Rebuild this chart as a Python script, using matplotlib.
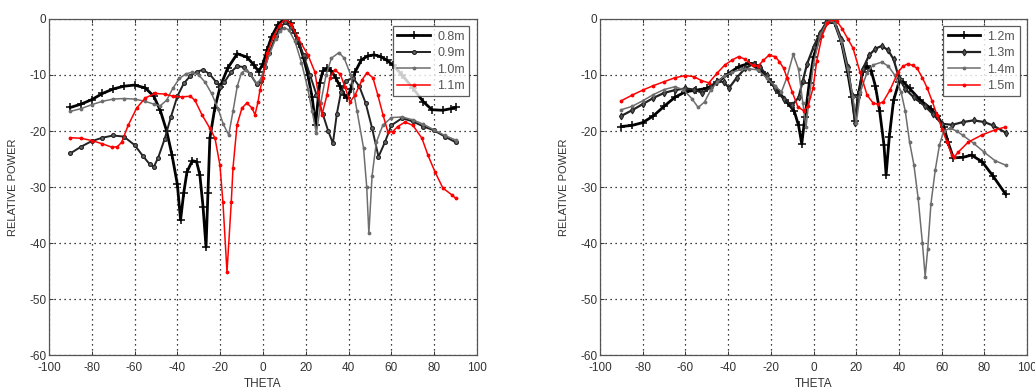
import matplotlib
matplotlib.use("Agg")
import matplotlib.pyplot as plt

# diagrammes de rayonnement mesures (puissance relative en dB vs angle theta)

# ---- graphe de gauche : 0.8m, 0.9m, 1.0m, 1.1m ----
theta_08 = [-90, -85, -80, -75, -70, -65, -60, -55, -51, -48, -45, -42.5, -40, -38.5,
            -37, -35.5, -33, -31, -29.5, -28, -26.6, -25.7, -24.8, -22.5, -20, -16.5,
            -12, -7.5, -4, -2, 0, 2, 4, 7, 10, 13, 15, 17, 19, 21, 23, 24.6, 26.5, 28,
            30, 32, 34, 36, 38, 39.5, 41, 43, 46, 49, 52, 55, 58, 61, 65, 70, 75, 79,
            84, 88, 90]
power_08 = [-15.8, -15.2, -14.4, -13.3, -12.5, -12, -11.8, -12.3, -13.8, -16.3, -20,
            -24.3, -29.5, -35.9, -31, -27.3, -25.3, -25.5, -27.8, -33.5, -40.7, -31,
            -21.3, -15.9, -12.1, -8.8, -6.2, -6.8, -8.3, -9.4, -8, -5.5, -3.2, -1, 0,
            -0.8, -2.5, -4.5, -7, -10, -14, -18.9, -11.5, -9.3, -8.8, -9.3, -10.5,
            -12, -13.5, -14.1, -12.5, -9.5, -7.3, -6.6, -6.4, -6.7, -7.4, -8.3, -10,
            -12.3, -14.8, -16.2, -16.3, -16, -15.8]

theta_09 = [-90, -85, -80, -75, -70, -65, -60, -56, -53, -51, -49, -46, -43, -40, -37,
            -34, -31, -28, -25, -22, -20, -18, -15, -12, -9, -6, -3, -1, 1, 3, 6, 8,
            10.5, 13, 16, 19, 22, 25, 28, 30.5, 32.7, 34.5, 36.5, 39, 42, 45, 48, 51,
            54, 57, 60, 65, 70, 75, 80, 85, 90]
power_09 = [-24, -22.8, -21.8, -21.2, -20.8, -21, -22.5, -24.5, -25.9, -26.4, -24.8,
            -21.5, -17.5, -13.8, -11.5, -10.2, -9.4, -9.1, -9.8, -11.2, -12.1, -11.3,
            -9.5, -8.4, -8.6, -9.8, -11.6, -11, -8.5, -6, -3, -1.5, -0.6, -1.5, -3.5,
            -6.5, -10, -13.5, -17, -20, -22.2, -17, -13, -11, -10.5, -12, -15, -19.5,
            -24.6, -22, -19, -17.7, -18.3, -19.2, -19.9, -21, -22]

theta_10 = [-90, -85, -80, -75, -70, -65, -60, -55, -51, -48, -45, -42, -39, -36, -33,
            -30, -27, -24, -21, -18.5, -16, -14, -12, -10, -8, -6, -3, -1, 1, 3, 6, 8,
            10, 12, 15, 18, 21, 23, 25, 27, 29.5, 32, 35.5, 38, 41, 44, 47, 48.5, 49.5,
            51, 53, 56, 60, 65, 70, 75, 80, 85, 90]
power_10 = [-16.5, -16, -15.3, -14.7, -14.3, -14.2, -14.3, -14.7, -15.2, -15.5, -14.5,
            -12.3, -10.6, -9.8, -9.5, -10, -11.3, -13.3, -16, -18.8, -20.7, -16.5, -12,
            -9.6, -9.1, -9.8, -11.5, -10.8, -8.6, -6.3, -3.5, -2.2, -1.6, -1.9, -4,
            -7.8, -12.5, -16.5, -20.4, -15, -10, -7, -6, -7, -10, -16.5, -23, -30,
            -38.3, -28, -22, -19, -17.6, -17.5, -18, -18.8, -19.8, -20.8, -21.6]

theta_11 = [-90, -85, -80, -75, -70.5, -68, -66, -63, -59, -55, -50.5, -46, -42, -38,
            -34, -31.8, -28.5, -24.8, -22.4, -20.1, -18.7, -16.8, -14.8, -14, -12.1,
            -9.8, -7.5, -5.1, -3.7, -2.3, -1.4, 0, 2, 5, 8, 10.5, 13, 16.4, 21, 24.3,
            25.7, 27.6, 29.9, 31.3, 33.6, 36.2, 38.3, 40.7, 43, 46.3, 48.6, 51.4, 53.7,
            56.1, 58.4, 60.7, 63, 66.4, 70.1, 74.3, 77.1, 80.4, 84.1, 88.3, 90]
power_11 = [-21.2, -21.3, -21.7, -22.3, -22.9, -22.8, -22, -19, -15.9, -14.1, -13.3,
            -13.4, -13.8, -13.9, -13.8, -14.5, -17.1, -19.5, -21.3, -26.1, -32.7,
            -45.2, -32.7, -26.6, -18.9, -15.9, -15, -15.9, -17.1, -14.8, -12.7, -10.5,
            -6.1, -3, -1, 0, -0.9, -3.4, -6.4, -9.5, -13, -17.1, -13.6, -10.5, -9.1,
            -9.9, -12.1, -14.8, -13.6, -10.9, -9.6, -10.5, -13.6, -17.1, -20.2, -20.1,
            -19.2, -18.4, -19, -21.3, -24.3, -27.3, -30.2, -31.4, -32]

# ---- graphe de droite : 1.2m, 1.3m, 1.4m, 1.5m ----
theta_12 = [-90, -85, -80, -75, -70, -65, -60, -55, -50, -45, -40, -35, -30, -27, -24,
            -20, -16, -12, -9, -7, -5.5, -4, -2, 0, 3, 6, 8, 10, 13, 16, 18, 19.5, 21,
            23, 25, 27, 29, 31, 33, 34, 35.5, 37.5, 40, 42, 45, 50, 55, 58, 61, 63,
            65.5, 70, 74, 79, 84, 90]
power_12 = [-19.2, -19, -18.5, -17.3, -15.6, -14, -13, -12.7, -12.4, -11.3, -9.8, -8.5,
            -7.9, -8.3, -9.4, -11.3, -13.2, -15, -16.5, -19, -22.3, -17.5, -11.5, -6.8,
            -3, -0.8, -0.2, -0.8, -4, -9.5, -14, -18.3, -13.5, -9.5, -8.4, -9.2, -12,
            -16.5, -22.5, -27.8, -21, -14.5, -11.3, -11.2, -12.4, -14.5, -16, -17.3,
            -19.2, -22, -24.8, -24.7, -24.3, -25.5, -28, -31.3]

theta_13 = [-90, -85, -80, -75, -70, -65, -60, -56, -52, -48, -45, -42, -39.5, -36, -32,
            -28, -25, -22, -18, -14, -10, -7, -5, -3, 0, 3, 6, 8, 10, 13, 16, 18, 19.5,
            21, 23, 26, 29, 32, 35, 37.5, 40, 43, 47, 52, 56, 60, 65, 70, 75, 80, 84,
            90]
power_13 = [-17.3, -16.3, -15.2, -14.1, -13.2, -12.7, -12.4, -12.6, -13.2, -12.2, -11,
            -11.3, -12.3, -10.5, -8.8, -8, -8.6, -10, -12.4, -14.3, -15.4, -14, -11, -8,
            -5, -2.5, -0.6, 0, -0.6, -3.5, -8.5, -13.5, -18.6, -14, -9, -6.5, -5.3,
            -4.8, -5.6, -7.2, -10.5, -12.5, -14, -15.5, -17, -18.7, -18.9, -18.4, -18.1,
            -18.4, -19, -20.3]

theta_14 = [-90, -85, -80, -75, -70, -65, -61, -57, -54, -51, -48, -45, -42, -38, -34,
            -30, -26, -22, -18, -15, -12.5, -9.5, -7, -5, -3.5, -2, 0, 3, 6, 8, 10, 13,
            16, 18.5, 20, 22, 25, 28, 32, 35, 38, 41, 43, 45, 47, 49, 51, 52.3, 53.5,
            55, 57, 59, 61, 64, 67, 70, 75, 80, 85, 90]
power_14 = [-16.2, -15.6, -14.6, -13.5, -12.6, -12.1, -12.6, -14.2, -15.8, -14.8, -12.6,
            -11.3, -10.2, -9.5, -9, -8.9, -9.1, -10.5, -12, -13, -10.5, -6.3, -9, -15,
            -19.3, -14, -8, -3, -0.8, -0.1, -0.8, -4, -9, -14, -18.6, -13, -9.6, -8.2,
            -7.7, -8.4, -10, -13, -16.5, -22, -26, -32, -40, -46, -41, -33, -27, -22.5,
            -20, -19.5, -20, -20.8, -22.2, -23.8, -25.3, -26.1]

theta_15 = [-90, -85, -80, -75, -70, -65, -60, -56, -52.5, -49, -45, -41.5, -38, -35,
            -32, -28.5, -26, -23.5, -21, -18, -16, -14, -12.4, -10, -7.3, -4.5, -2.5,
            -0.2, 1.5, 4, 6.5, 8.7, 11, 13.5, 16, 18.5, 21.8, 25.1, 27.9, 30, 32.6,
            35.8, 39.6, 42, 44.3, 46.5, 48.5, 51, 53.2, 55.5, 57.8, 60.2, 62.5, 64.9,
            66, 67.7, 72.4, 78.9, 85, 89.7]
power_15 = [-14.6, -13.6, -12.7, -11.9, -11.2, -10.5, -10.1, -10.3, -11, -11.4, -9.6,
            -8.2, -7.3, -6.7, -7.2, -8.3, -8.4, -7.4, -6.5, -6.7, -7.6, -8.8, -10.5,
            -13, -15.7, -16.4, -15.5, -12.3, -7.5, -3, -0.8, 0, -0.4, -1.8, -3.5, -5.2,
            -9.5, -13.6, -15, -15.2, -14.8, -12.7, -9.5, -8.4, -8, -8.3, -8.8, -10.5,
            -12.3, -14.6, -17.1, -19.6, -22, -24.3, -24.6, -23.8, -22, -20.7, -19.8,
            -19.3]

labels_gauche = ["0.8m", "0.9m", "1.0m", "1.1m"]
labels_droite = ["1.2m", "1.3m", "1.4m", "1.5m"]

x_ticks = list(range(-100, 101, 20))
y_ticks = list(range(-60, 1, 10))

# styles des 4 courbes (meme ordre dans les deux graphes)
style_1 = dict(color="black", lw=2.0, marker="+", ms=5.5, mew=1.1)
style_2o = dict(color="#222222", lw=1.4, marker="o", ms=2.8, mfc="#666666", mew=0.8)
style_2d = dict(color="#222222", lw=1.6, marker="d", ms=3.4, mfc="#555555", mew=0.8)
style_3 = dict(color="#6e6e6e", lw=1.1, marker=".", ms=3.5)
style_4 = dict(color="#ff0000", lw=1.1, marker=".", ms=3.5)


def habiller(ax):
    # axes facon matlab : grille pointillee, graduations vers l'interieur
    ax.set_xlim(-100, 100)
    ax.set_ylim(-60, 0)
    ax.set_xticks(x_ticks)
    ax.set_yticks(y_ticks)
    ax.grid(True, color="black", linestyle=(0, (1, 3)), linewidth=0.9)
    ax.tick_params(direction="in", top=True, right=True, length=3, width=0.7,
                   labelsize=8.5, colors="#333333")
    ax.tick_params(axis="x", pad=5)
    ax.tick_params(axis="y", pad=2)
    for s in ax.spines.values():
        s.set_color("#555555")
        s.set_linewidth(0.9)
    ax.set_xlabel("THETA", fontsize=8.5, color="#333333", labelpad=3)
    ax.set_ylabel("RELATIVE POWER", fontsize=8, color="#333333", labelpad=8)
    leg = ax.legend(loc="upper right", fontsize=9, frameon=True, fancybox=False,
                    edgecolor="#333333", handlelength=2.6, labelspacing=0.35,
                    borderpad=0.35, borderaxespad=0.6, handletextpad=0.6)
    leg.get_frame().set_linewidth(0.9)
    for t in leg.get_texts():
        t.set_color("#555555")


def main():
    plt.rcParams["font.family"] = ["Liberation Sans", "DejaVu Sans"]
    plt.rcParams["axes.unicode_minus"] = False

    fig = plt.figure(figsize=(10.35, 3.9), dpi=100)
    ax1 = fig.add_axes([0.0473, 0.0897, 0.4135, 0.8616])
    ax2 = fig.add_axes([0.5797, 0.0897, 0.4126, 0.8616])

    ax1.plot(theta_08, power_08, label=labels_gauche[0], **style_1)
    ax1.plot(theta_09, power_09, label=labels_gauche[1], **style_2o)
    ax1.plot(theta_10, power_10, label=labels_gauche[2], **style_3)
    ax1.plot(theta_11, power_11, label=labels_gauche[3], **style_4)
    habiller(ax1)

    ax2.plot(theta_12, power_12, label=labels_droite[0], **style_1)
    ax2.plot(theta_13, power_13, label=labels_droite[1], **style_2d)
    ax2.plot(theta_14, power_14, label=labels_droite[2], **style_3)
    ax2.plot(theta_15, power_15, label=labels_droite[3], **style_4)
    habiller(ax2)

    fig.savefig("out.png", dpi=100)


if __name__ == "__main__":
    main()
